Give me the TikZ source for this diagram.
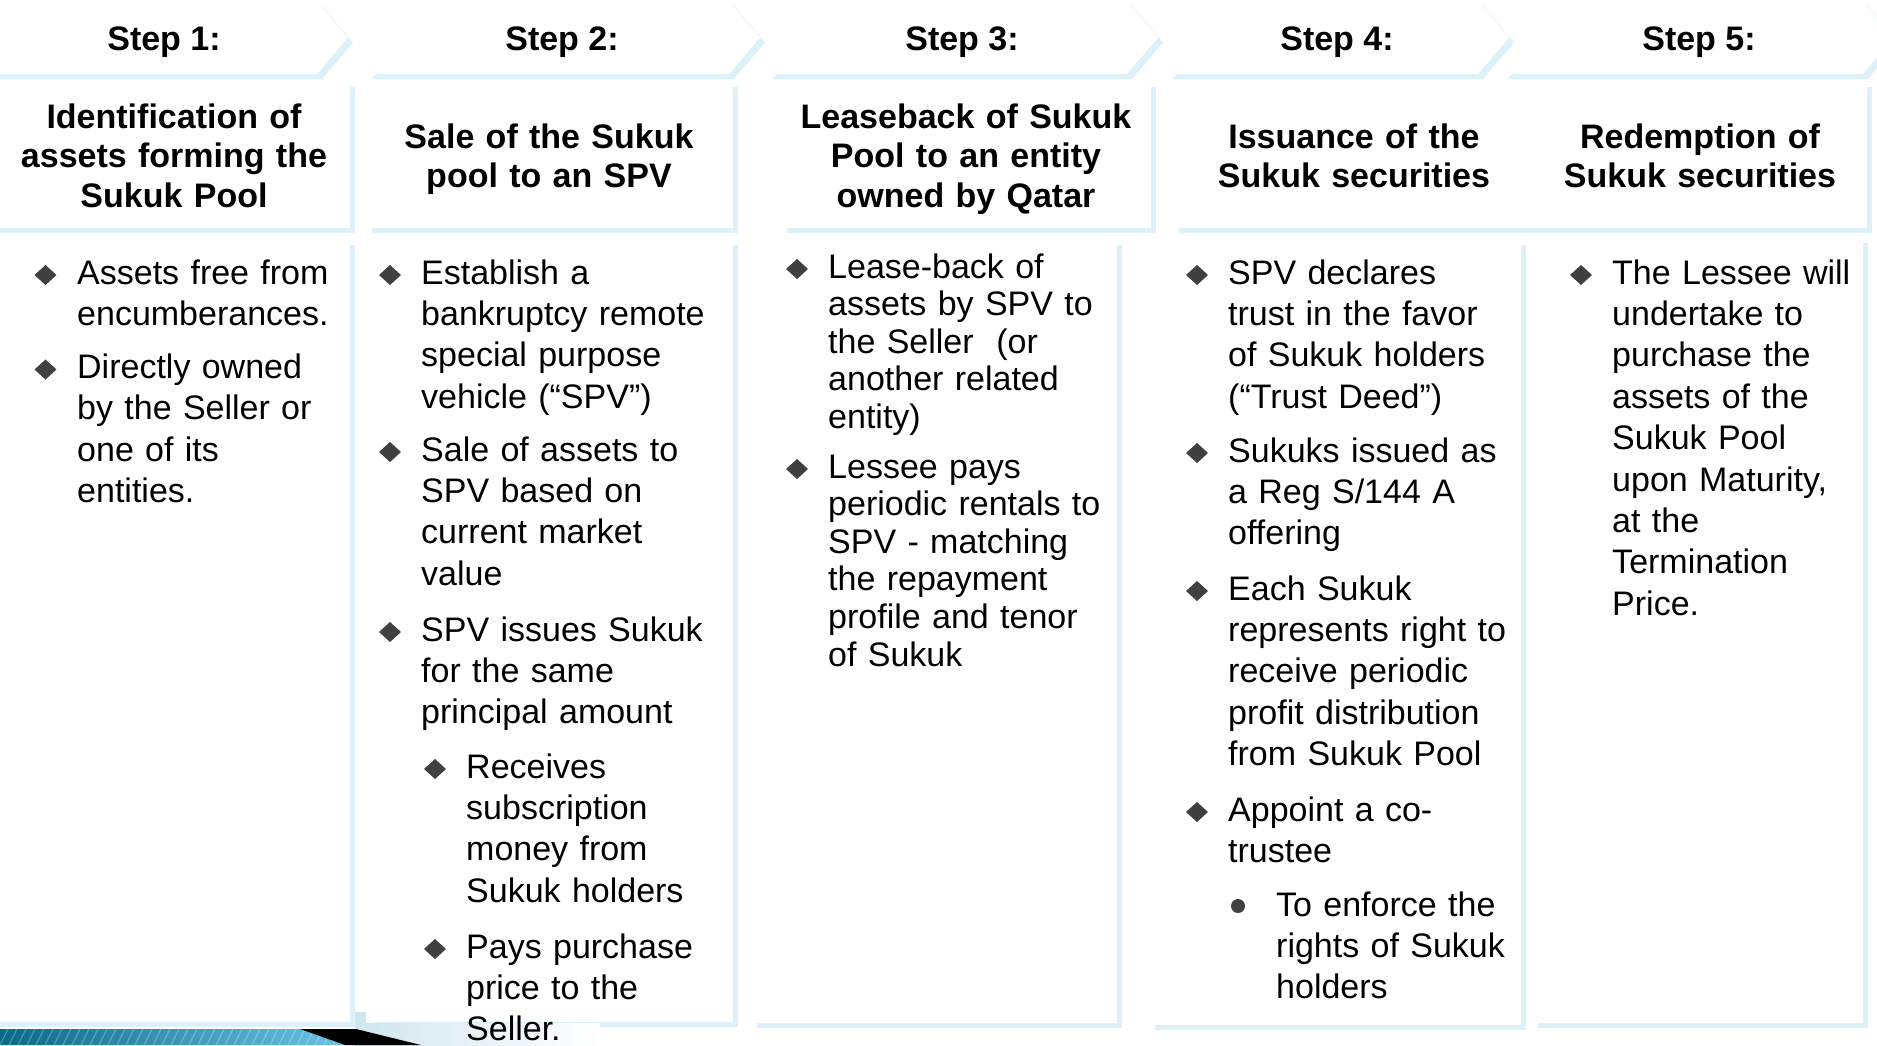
\documentclass[tikz,border=0pt]{standalone}
\usepackage{fontspec}
\setmainfont{Liberation Sans}
\usetikzlibrary{calc}
\definecolor{shade}{RGB}{221,242,248}
\definecolor{bulletgray}{RGB}{64,64,64}
\definecolor{bardark}{RGB}{10,104,136}
\definecolor{barlight}{RGB}{104,196,228}
\definecolor{haze}{RGB}{208,230,238}
\tikzset{
  panel/.style={fill=white,
    preaction={fill=shade, transform canvas={shift={(5pt,-5pt)}}}},
  steplabel/.style={font=\fontsize{34}{40}\selectfont\bfseries, anchor=base, inner sep=0pt},
  headtext/.style={font=\fontsize{34}{39.7}\selectfont\bfseries, align=center,
    text width=380pt, anchor=base, inner sep=0pt},
  bodytext/.style={font=\fontsize{34}{41.4}\selectfont, align=left,
    text width=420pt, anchor=base west, inner sep=0pt},
  tighttext/.style={bodytext, font=\fontsize{34}{37.6}\selectfont},
  diamondbullet/.pic={\fill[bulletgray] (-11,0) -- (0,-10) -- (11,0) -- (0,10) -- cycle;},
  dotbullet/.pic={\fill[bulletgray] (0,0) circle (7);}
}
\begin{document}
\begin{tikzpicture}[x=1pt,y=-1pt]
\useasboundingbox (0,0) rectangle (1877,1045);
\fill[white] (0,0) rectangle (1877,1045);

% step chevrons
\foreach \l/\r in {-40/317, 367/729, 768/1127, 1168/1478, 1503/1863}
  \path[panel] (\l,1) -- (\r,1) -- (\r+31,37.5) -- (\r,74) -- (\l,74) -- (\l+31,37.5) -- cycle;

% title boxes
\foreach \l/\r in {-5/350, 367/733, 782/1151, 1174/1535, 1530/1867}
  \path[panel] (\l,82) rectangle (\r,228);

% body boxes
\path[panel] (-5,240) rectangle (350,1022);
\path[panel] (367,240) rectangle (733,1022);
\path[panel] (752,240) rectangle (1117,1023);
\path[panel] (1150,240) rectangle (1521,1025);
\path[panel] (1533,238) rectangle (1863,1023);

% footer ornament
\shade[left color=haze, right color=white] (355,1023) rectangle (600,1045);
\fill[haze] (355,1012) rectangle (366,1023);
\begin{scope}
  \clip (0,1029) -- (300,1029) -- (345,1045) -- (0,1045) -- cycle;
  \shade[left color=bardark, right color=barlight] (0,1029) rectangle (345,1045);
  \foreach \k in {0,9,...,360}
    \draw[white, opacity=0.25, line width=1.2pt] (\k,1045) -- (\k+8,1029);
\end{scope}
\fill[black] (300,1029) -- (356,1029) -- (421,1045) -- (345,1045) -- cycle;

% step labels
\node[steplabel] (s1) at (164,50) {Step 1:};
\node[steplabel] (s2) at (562,50) {Step 2:};
\node[steplabel] (s3) at (962,50) {Step 3:};
\node[steplabel] (s4) at (1337,50) {Step 4:};
\node[steplabel] (s5) at (1699,50) {Step 5:};

% titles
\node[headtext] (h1) at (174,128) {Identification of\\assets forming the\\Sukuk Pool};
\node[headtext] (h2) at (549,148) {Sale of the Sukuk\\pool to an SPV};
\node[headtext] (h3) at (966,128) {Leaseback of Sukuk\\Pool to an entity\\owned by Qatar};
\node[headtext] (h4) at (1354,148) {Issuance of the\\Sukuk securities};
\node[headtext] (h5) at (1700,148) {Redemption of\\Sukuk securities};

% column 1
\pic at (45.5,275) {diamondbullet};
\node[bodytext] (c1a) at (77,284) {Assets free from\\encumberances.};
\pic at (45.5,369.5) {diamondbullet};
\node[bodytext] (c1b) at (77,378.5) {Directly owned\\by the Seller or\\one of its\\entities.};

% column 2
\pic at (390,275) {diamondbullet};
\node[bodytext] (c2a) at (421,284) {Establish a\\bankruptcy remote\\special purpose\\vehicle (“SPV”)};
\pic at (390,452) {diamondbullet};
\node[bodytext] (c2b) at (421,461) {Sale of assets to\\SPV based on\\current market\\value};
\pic at (390,632) {diamondbullet};
\node[bodytext] (c2c) at (421,641) {SPV issues Sukuk\\for the same\\principal amount};
\pic at (435,769) {diamondbullet};
\node[bodytext] (c2d) at (466,778) {Receives\\subscription\\money from\\Sukuk holders};
\pic at (435,949) {diamondbullet};
\node[bodytext] (c2e) at (466,958) {Pays purchase\\price to the\\Seller.};

% column 3
\pic at (797,269) {diamondbullet};
\node[tighttext] (c3a) at (828,278) {Lease-back of\\assets by SPV to\\the Seller~ (or\\another related\\entity)};
\pic at (797,469) {diamondbullet};
\node[tighttext] (c3b) at (828,478) {Lessee pays\\periodic rentals to\\SPV - matching\\the repayment\\profile and tenor\\of Sukuk};

% column 4
\pic at (1197,275) {diamondbullet};
\node[bodytext] (c4a) at (1228,284) {SPV declares\\trust in the favor\\of Sukuk holders\\(“Trust Deed”)};
\pic at (1197,453) {diamondbullet};
\node[bodytext] (c4b) at (1228,462) {Sukuks issued as\\a Reg S/144 A\\offering};
\pic at (1197,591) {diamondbullet};
\node[bodytext] (c4c) at (1228,600) {Each Sukuk\\represents right to\\receive periodic\\profit distribution\\from Sukuk Pool};
\pic at (1197,812) {diamondbullet};
\node[bodytext] (c4d) at (1228,821) {Appoint a co-\\trustee};
\pic at (1238,906) {dotbullet};
\node[bodytext] (c4e) at (1276,916) {To enforce the\\rights of Sukuk\\holders};

% column 5
\pic at (1581,275) {diamondbullet};
\node[bodytext] (c5a) at (1612,284) {The Lessee will\\undertake to\\purchase the\\assets of the\\Sukuk Pool\\upon Maturity,\\at the\\Termination\\Price.};
\end{tikzpicture}
\end{document}
